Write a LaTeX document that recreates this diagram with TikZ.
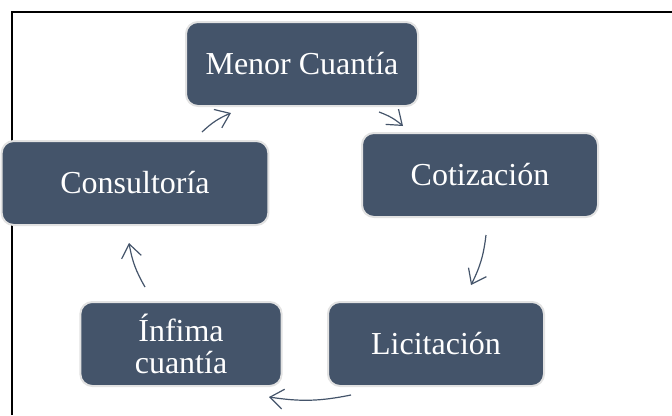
\documentclass[tikz,border=0pt]{standalone}
\usepackage{fontspec}
\setmainfont{Liberation Serif}
\usetikzlibrary{shapes, arrows, arrows.meta, positioning}
\definecolor{pizarra}{HTML}{44546A}
\definecolor{borde}{HTML}{E2E2E2}
\tikzset{proceso/.style={ % Sets the properties for each box of the cycle
           rectangle,
           rounded corners=9pt,
           fill=pizarra,
           draw=borde,
           line width=1.5pt,
           text=white,
           align=center,
           minimum height=63pt,
           font=\fontsize{24}{24}\selectfont},
         ciclo/.style={      % Sets the properties for each arrow of the cycle
           draw=pizarra,
           line width=0.9pt,
           -{Straight Barb[length=10pt,width=15pt]},
           bend left=10},
         marco/.style={      % Frame of the table cell
           draw=black,
           line width=1pt}}

\begin{document}
\begin{tikzpicture}[x=0.75pt, y=-0.75pt]
\useasboundingbox (0,0) rectangle (672,415);
\draw[marco] (12,415) -- (12,12) -- (672,12);

\node[proceso, minimum width=174pt] (menor) at (302,64) {Menor Cuantía};
\node[proceso, minimum width=177pt] (cotizacion) at (480,175) {Cotización};
\node[proceso, minimum width=162pt] (licitacion) at (436,344) {Licitación};
\node[proceso, minimum width=151pt] (infima) at (181,344) {Ínfima\\cuantía};
\node[proceso, minimum width=200pt] (consultoria) at (135,183) {Consultoría};

\coordinate (c1) at (202,132); \coordinate (m1) at (231,113);
\coordinate (m2) at (379,112); \coordinate (k1) at (403,126);
\coordinate (k2) at (486,235); \coordinate (l1) at (471,285);
\coordinate (l2) at (351,395); \coordinate (i1) at (269,397);
\coordinate (i2) at (145,287); \coordinate (c2) at (129,243);

\draw[ciclo] (c1) to (m1);
\draw[ciclo] (m2) to (k1);
\draw[ciclo] (k2) to (l1);
\draw[ciclo] (l2) to (i1);
\draw[ciclo] (i2) to (c2);

\end{tikzpicture}
\end{document}
